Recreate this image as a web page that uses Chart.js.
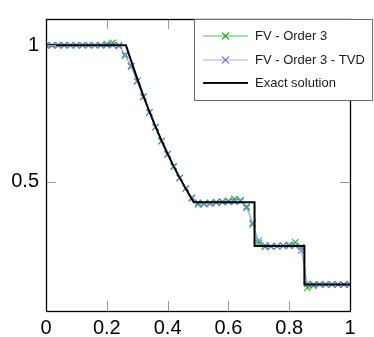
<!DOCTYPE html>
<html>
<head>
<meta charset="utf-8">
<script src="https://cdn.jsdelivr.net/npm/chart.js@4.4.1/dist/chart.umd.min.js"></script>
<style>
  html, body { margin: 0; padding: 0; background: #fff; }
  #wrap { width: 374px; height: 337px; }
</style>
</head>
<body>
<div id="wrap"><canvas id="c" width="374" height="337"></canvas></div>
<script>
// ---- data ----
const gridX = [0, 0.02, 0.04, 0.06, 0.08, 0.10, 0.12, 0.14, 0.16, 0.18,
               0.20, 0.22, 0.24, 0.26, 0.28, 0.30, 0.32, 0.34, 0.36, 0.38,
               0.40, 0.42, 0.44, 0.46, 0.48, 0.50, 0.52, 0.54, 0.56, 0.58,
               0.60, 0.62, 0.64, 0.66, 0.68, 0.70, 0.72, 0.74, 0.76, 0.78,
               0.80, 0.82, 0.84, 0.86, 0.88, 0.90, 0.92, 0.94, 0.96, 0.98, 1.00];

const order3 = [1, 1, 1, 1, 1, 1, 1, 1, 1, 1,
                1.004, 1.009, 1.000, 0.962, 0.922, 0.868, 0.811, 0.754, 0.700, 0.649,
                0.601, 0.556, 0.514, 0.476, 0.440, 0.418, 0.421, 0.424, 0.426, 0.428,
                0.431, 0.437, 0.433, 0.410, 0.350, 0.276, 0.262, 0.264, 0.265, 0.267,
                0.270, 0.279, 0.262, 0.113, 0.121, 0.126, 0.125, 0.125, 0.125, 0.125, 0.125];

const order3TVD = [1, 1, 1, 1, 1, 1, 1, 1, 1, 1,
                   1, 1, 0.997, 0.966, 0.924, 0.869, 0.812, 0.755, 0.701, 0.650,
                   0.602, 0.557, 0.515, 0.477, 0.443, 0.424, 0.419, 0.421, 0.424, 0.426,
                   0.427, 0.428, 0.429, 0.405, 0.345, 0.285, 0.268, 0.264, 0.265, 0.266,
                   0.266, 0.267, 0.250, 0.127, 0.125, 0.125, 0.125, 0.125, 0.125, 0.125, 0.125];

const exactX = [0, 0.263, 0.28, 0.30, 0.32, 0.34, 0.36, 0.38, 0.40, 0.42, 0.44, 0.46, 0.48, 0.486,
                0.686, 0.686, 0.850, 0.850, 1];
const exactY = [1, 1, 0.943, 0.878, 0.816, 0.758, 0.703, 0.651, 0.603, 0.557, 0.515, 0.475, 0.437, 0.426,
                0.426, 0.266, 0.266, 0.125, 0.125];

const seriesLabels = ['FV - Order 3', 'FV - Order 3 - TVD', 'Exact solution'];
const xTicks = [0, 0.2, 0.4, 0.6, 0.8, 1];
const xTickLabels = ['0', '0.2', '0.4', '0.6', '0.8', '1'];
const yTicks = [0.5, 1];
const yTickLabels = ['0.5', '1'];

// ---- styles ----
const GREEN_LINE = '#3ccc3c', GREEN_MARK = '#1fb01f';
const BLUE_LINE = '#a8aeff', BLUE_MARK = '#6584e6';
const FONT = "'Liberation Sans', Arial, Helvetica, sans-serif";

function pts(xs, ys) { return xs.map((x, i) => ({ x: x, y: ys[i] })); }

const frame = {
  id: 'frame',
  afterDraw(chart) {
    const ctx = chart.ctx, a = chart.chartArea;
    const xs = chart.scales.x, ys = chart.scales.y;
    ctx.save();
    // inner tick marks
    ctx.strokeStyle = '#9a9a9a';
    ctx.lineWidth = 1;
    ctx.beginPath();
    xTicks.forEach(v => {
      const px = Math.round(xs.getPixelForValue(v)) + 0.5;
      ctx.moveTo(px, a.bottom); ctx.lineTo(px, a.bottom - 10);
      ctx.moveTo(px, a.top); ctx.lineTo(px, a.top + 10);
    });
    yTicks.forEach(v => {
      const py = Math.round(ys.getPixelForValue(v)) + 0.5;
      ctx.moveTo(a.left, py); ctx.lineTo(a.left + 10, py);
      ctx.moveTo(a.right, py); ctx.lineTo(a.right - 10, py);
    });
    ctx.stroke();
    // box
    ctx.strokeStyle = '#000';
    ctx.lineWidth = 1.3;
    ctx.strokeRect(Math.round(a.left) + 0.5, Math.round(a.top) + 0.5,
                   Math.round(a.right - a.left), Math.round(a.bottom - a.top));
    // legend
    const lx = 194.5, ly = 19.5, lw = 178, lh = 81;
    ctx.fillStyle = '#fff';
    ctx.fillRect(lx, ly, lw, lh);
    ctx.strokeStyle = '#6a6a6a';
    ctx.lineWidth = 1;
    ctx.strokeRect(lx, ly, lw, lh);
    const rows = [36, 60, 83];
    const lineC = [GREEN_LINE, BLUE_LINE, '#111'];
    const markC = [GREEN_MARK, BLUE_MARK, null];
    const lwid = [1.2, 1.2, 2.2];
    ctx.font = '13px ' + FONT;
    ctx.textBaseline = 'middle';
    ctx.textAlign = 'left';
    rows.forEach((y, i) => {
      ctx.strokeStyle = lineC[i];
      ctx.lineWidth = lwid[i];
      ctx.beginPath();
      ctx.moveTo(203, y); ctx.lineTo(248, y);
      ctx.stroke();
      if (markC[i]) {
        ctx.strokeStyle = markC[i];
        ctx.lineWidth = 1.1;
        ctx.beginPath();
        ctx.moveTo(222, y - 3.5); ctx.lineTo(229, y + 3.5);
        ctx.moveTo(222, y + 3.5); ctx.lineTo(229, y - 3.5);
        ctx.stroke();
      }
      ctx.fillStyle = '#1a1a1a';
      ctx.fillText(seriesLabels[i], 255, y + 0.5);
    });
    ctx.restore();
  }
};

new Chart(document.getElementById('c'), {
  type: 'scatter',
  data: {
    datasets: [
      {
        label: seriesLabels[0], data: pts(gridX, order3), showLine: true,
        borderColor: GREEN_LINE, borderWidth: 1, tension: 0,
        pointStyle: 'crossRot', pointRadius: 4.5, pointBorderColor: GREEN_MARK,
        pointBorderWidth: 1.1, pointBackgroundColor: GREEN_MARK, order: 3
      },
      {
        label: seriesLabels[1], data: pts(gridX, order3TVD), showLine: true,
        borderColor: BLUE_LINE, borderWidth: 1, tension: 0,
        pointStyle: 'crossRot', pointRadius: 4.5, pointBorderColor: BLUE_MARK,
        pointBorderWidth: 1.2, pointBackgroundColor: BLUE_MARK, order: 2
      },
      {
        label: seriesLabels[2], data: pts(exactX, exactY), showLine: true,
        borderColor: '#000', borderWidth: 2, tension: 0, pointRadius: 0, order: 1
      }
    ]
  },
  options: {
    responsive: false, animation: false, devicePixelRatio: 1,
    layout: { padding: { left: 0, right: 24, top: 6, bottom: 0 } },
    plugins: { legend: { display: false }, tooltip: { enabled: false } },
    scales: {
      x: {
        type: 'linear', min: 0, max: 1,
        grid: { display: false, drawTicks: false },
        border: { display: false },
        afterBuildTicks: s => { s.ticks = xTicks.map(v => ({ value: v })); },
        afterFit: s => { s.height = 26; },
        ticks: {
          autoSkip: false, maxRotation: 0, padding: 5, color: '#000',
          font: { size: 20, family: FONT },
          callback: (v, i) => xTickLabels[i]
        }
      },
      y: {
        type: 'linear', min: 0.028, max: 1.096,
        grid: { display: false, drawTicks: false },
        border: { display: false },
        afterBuildTicks: s => { s.ticks = yTicks.map(v => ({ value: v })); },
        afterFit: s => { s.width = 46; },
        ticks: {
          autoSkip: false, padding: 7, color: '#000',
          font: { size: 20, family: FONT },
          callback: (v, i) => yTickLabels[i]
        }
      }
    }
  },
  plugins: [frame]
});
</script>
</body>
</html>
